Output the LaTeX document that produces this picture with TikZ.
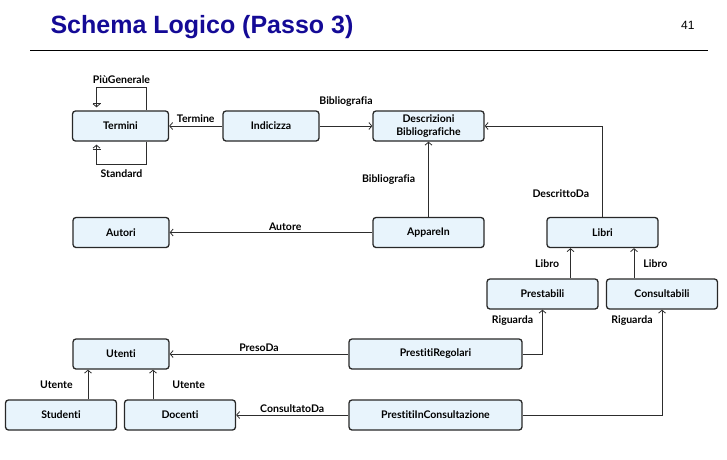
\documentclass[tikz,border=0pt]{standalone}
\usepackage{fontspec}
\setmainfont{Liberation Sans}
\newfontfamily\latofont[Ligatures=NoCommon]{Lato}
\usetikzlibrary{arrows.meta}

\definecolor{titleblue}{RGB}{20,10,150}
\definecolor{boxfill}{RGB}{232,244,252}
\definecolor{boxline}{RGB}{40,40,40}
\definecolor{linkline}{RGB}{45,45,45}

\tikzset{
  entity/.style={draw=boxline, line width=1.3pt, fill=boxfill, rounded corners=3pt,
    minimum height=30pt, inner sep=1pt, align=center,
    font=\latofont\bfseries\fontsize{10.5}{12.5}\selectfont},
  link/.style={draw=linkline, line width=0.8pt, -{Straight Barb[length=3pt,width=7pt]}},
  selflink/.style={draw=linkline, line width=0.8pt,
    -{Bar[width=8pt] Straight Barb[length=3pt,width=7pt,sep=3pt]}},
  role/.style={font=\latofont\bfseries\fontsize{10.5}{11}\selectfont, inner sep=1pt},
}

\begin{document}
\begin{tikzpicture}[x=1pt,y=-1pt]
\useasboundingbox (0,0) rectangle (727,459);

% titolo
\node[anchor=base west, text=titleblue, font=\fontsize{25}{28}\selectfont\bfseries] (title) at (47,33) {Schema Logico (Passo 3)};
\node[anchor=base east, font=\fontsize{12}{14}\selectfont] (pagenum) at (698,29) {41};
\draw[line width=0.8pt] (30,50) -- (708,50);

% tabelle
\begin{scope}[every node/.style={entity}]
\node[minimum width=96pt] (termini) at (120.5,126) {Termini};
\node[minimum width=96pt] (indicizza) at (271,126) {Indicizza};
\node[minimum width=111pt] (descr) at (428.5,126) {Descrizioni\\Bibliografiche};
\node[minimum width=96pt] (autori) at (121,232.5) {Autori};
\node[minimum width=111pt] (appare) at (428.5,232.5) {AppareIn};
\node[minimum width=111pt] (libri) at (602.5,232.5) {Libri};
\node[minimum width=111pt] (prestabili) at (542.5,294) {Prestabili};
\node[minimum width=111pt] (consultabili) at (662,294) {Consultabili};
\node[minimum width=96pt] (utenti) at (121,354) {Utenti};
\node[minimum width=173pt] (pregolari) at (435.5,354) {PrestitiRegolari};
\node[minimum width=111pt] (studenti) at (61,415) {Studenti};
\node[minimum width=111pt] (docenti) at (180,415) {Docenti};
\node[minimum width=173pt] (pconsult) at (435.5,415) {PrestitiInConsultazione};
\end{scope}

% riferimenti
\draw[selflink] ([xshift=26pt]termini.north) -- ++(0,-23) -| node[role, pos=0.25, above=2pt] {PiùGenerale} ([xshift=-24pt]termini.north);
\draw[selflink] ([xshift=26pt]termini.south) -- ++(0,23) -| node[role, pos=0.25, below=4pt] {Standard} ([xshift=-24pt]termini.south);
\draw[link] (indicizza) -- node[role, above=2pt] {Termine} (termini);
\draw[link] (indicizza) -- node[role, above=18pt] {Bibliografia} (descr);
\draw[link] (appare) -- node[role, left=12pt] {Bibliografia} (descr);
\draw[link] (appare) -- node[role, pos=0.43, above=1pt] {Autore} (autori);
\draw[link] (libri.north) |- node[role, pos=0.125, left=12pt] {DescrittoDa} (descr.east);
\draw[link] ([xshift=28pt]prestabili.north) -- node[role, left=10pt] {Libro} ([xshift=28pt]prestabili.north |- libri.south);
\draw[link] ([xshift=-28pt]consultabili.north) -- node[role, right=8pt] {Libro} ([xshift=-28pt]consultabili.north |- libri.south);
\draw[link] (pregolari.east) -| node[role, pos=0.88, left=8pt] {Riguarda} (prestabili.south);
\draw[link] (pconsult.east) -| node[role, pos=0.95, left=8pt] {Riguarda} (consultabili.south);
\draw[link] (pregolari) -- node[role, above=1pt] {PresoDa} (utenti);
\draw[link] (pconsult) -- node[role, above=1pt] {ConsultatoDa} (docenti);
\draw[link] ([xshift=27pt]studenti.north) -- node[role, left=14pt] {Utente} ([xshift=27pt]studenti.north |- utenti.south);
\draw[link] ([xshift=-27pt]docenti.north) -- node[role, right=18pt] {Utente} ([xshift=-27pt]docenti.north |- utenti.south);
\end{tikzpicture}
\end{document}
